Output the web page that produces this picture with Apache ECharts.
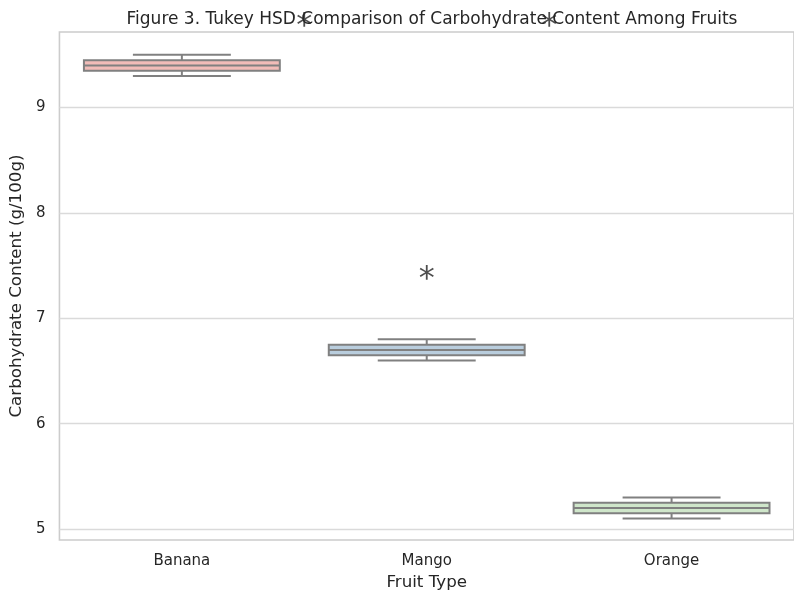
<!DOCTYPE html>
<html><head><meta charset="utf-8">
<script src="https://cdn.jsdelivr.net/npm/echarts@6/dist/echarts.min.js"></script>
<style>html,body{margin:0;padding:0;background:#fff}#c{width:794px;height:596px}</style>
</head><body><div id="c"></div><script>
const categories = ['Banana', 'Mango', 'Orange'];
const whiskerLow = [9.3, 6.6, 5.1];
const q1 = [9.35, 6.65, 5.15];
const median = [9.4, 6.7, 5.2];
const q3 = [9.45, 6.75, 5.25];
const whiskerHigh = [9.5, 6.8, 5.3];
const boxColors = ['#f1bcb8', '#b9cddd', '#cfe6ca'];
const yTicks = [5, 6, 7, 8, 9];
const sigX = [0.5, 1, 1.5];
const sigY = [9.83, 7.43, 9.83];
const sigText = ['*', '*', '*'];

const FONT = 'DejaVu Sans';
const TXT = '#262626';
const EDGE = '#808080';

const boxData = categories.map((c, i) => [i, whiskerLow[i], q1[i], median[i], q3[i], whiskerHigh[i]]);

const chart = echarts.init(document.getElementById('c'), null, {renderer: 'canvas'});
chart.setOption({
  animation: false,
  backgroundColor: '#ffffff',
  title: {
    text: 'Figure 3. Tukey HSD Comparison of Carbohydrate Content Among Fruits',
    left: 427, top: 6, textAlign: 'center',
    textStyle: {fontFamily: FONT, fontSize: 17, fontWeight: 'normal', color: TXT}
  },
  grid: {left: 56, right: -8, top: 32, bottom: 53, show: true, borderColor: '#cccccc', borderWidth: 1.6, backgroundColor: 'transparent'},
  xAxis: [{
    type: 'category', data: categories,
    axisLine: {show: false}, axisTick: {show: false},
    axisLabel: {fontFamily: FONT, fontSize: 15, color: TXT, margin: 14},
    name: 'Fruit Type', nameLocation: 'middle', nameGap: 34,
    nameTextStyle: {fontFamily: FONT, fontSize: 16.7, color: TXT}
  }, {
    type: 'value', min: -0.5, max: 2.5, show: false
  }],
  yAxis: {
    type: 'value', min: 4.896, max: 9.717,
    axisLine: {show: false}, axisTick: {show: false}, splitLine: {show: false},
    axisLabel: {customValues: yTicks, fontFamily: FONT, fontSize: 15, color: TXT, margin: 14},
    name: 'Carbohydrate Content (g/100g)', nameLocation: 'middle', nameGap: 30,
    nameTextStyle: {fontFamily: FONT, fontSize: 16.7, color: TXT}
  },
  series: [{
    type: 'custom',
    xAxisIndex: 0, yAxisIndex: 0,
    data: boxData,
    z: 3,
    renderItem: function (params, api) {
      const i = api.value(0);
      const band = api.size([1, 0])[0];
      const bw = band * 0.8, cw = band * 0.4;
      const pLow = api.coord([i, api.value(1)]);
      const pQ1 = api.coord([i, api.value(2)]);
      const pMed = api.coord([i, api.value(3)]);
      const pQ3 = api.coord([i, api.value(4)]);
      const pHigh = api.coord([i, api.value(5)]);
      const x = pMed[0];
      const ls = {stroke: EDGE, lineWidth: 2, fill: null};
      return {
        type: 'group',
        children: [
          {type: 'line', shape: {x1: x, y1: pQ3[1], x2: x, y2: pHigh[1]}, style: ls},
          {type: 'line', shape: {x1: x, y1: pQ1[1], x2: x, y2: pLow[1]}, style: ls},
          {type: 'line', shape: {x1: x - cw / 2, y1: pHigh[1], x2: x + cw / 2, y2: pHigh[1]}, style: ls},
          {type: 'line', shape: {x1: x - cw / 2, y1: pLow[1], x2: x + cw / 2, y2: pLow[1]}, style: ls},
          {type: 'rect', shape: {x: x - bw / 2, y: pQ3[1], width: bw, height: pQ1[1] - pQ3[1]},
           style: {fill: boxColors[i], stroke: EDGE, lineWidth: 2}},
          {type: 'line', shape: {x1: x - bw / 2, y1: pMed[1], x2: x + bw / 2, y2: pMed[1]}, style: ls}
        ]
      };
    }
  }, {
    type: 'scatter',
    xAxisIndex: 1, yAxisIndex: 0,
    data: sigX.map((v, i) => [v, sigY[i]]),
    symbolSize: 0.01,
    clip: false,
    z: 4,
    label: {
      show: true, position: 'inside', offset: [0, 7],
      formatter: p => sigText[p.dataIndex],
      fontFamily: FONT, fontSize: 32, color: '#222222'
    },
    markLine: {
      silent: true, symbol: 'none', label: {show: false},
      lineStyle: {color: '#dadada', width: 1.3, type: 'solid'},
      z: 1,
      data: yTicks.map(v => ({yAxis: v}))
    }
  }]
});
</script></body></html>
